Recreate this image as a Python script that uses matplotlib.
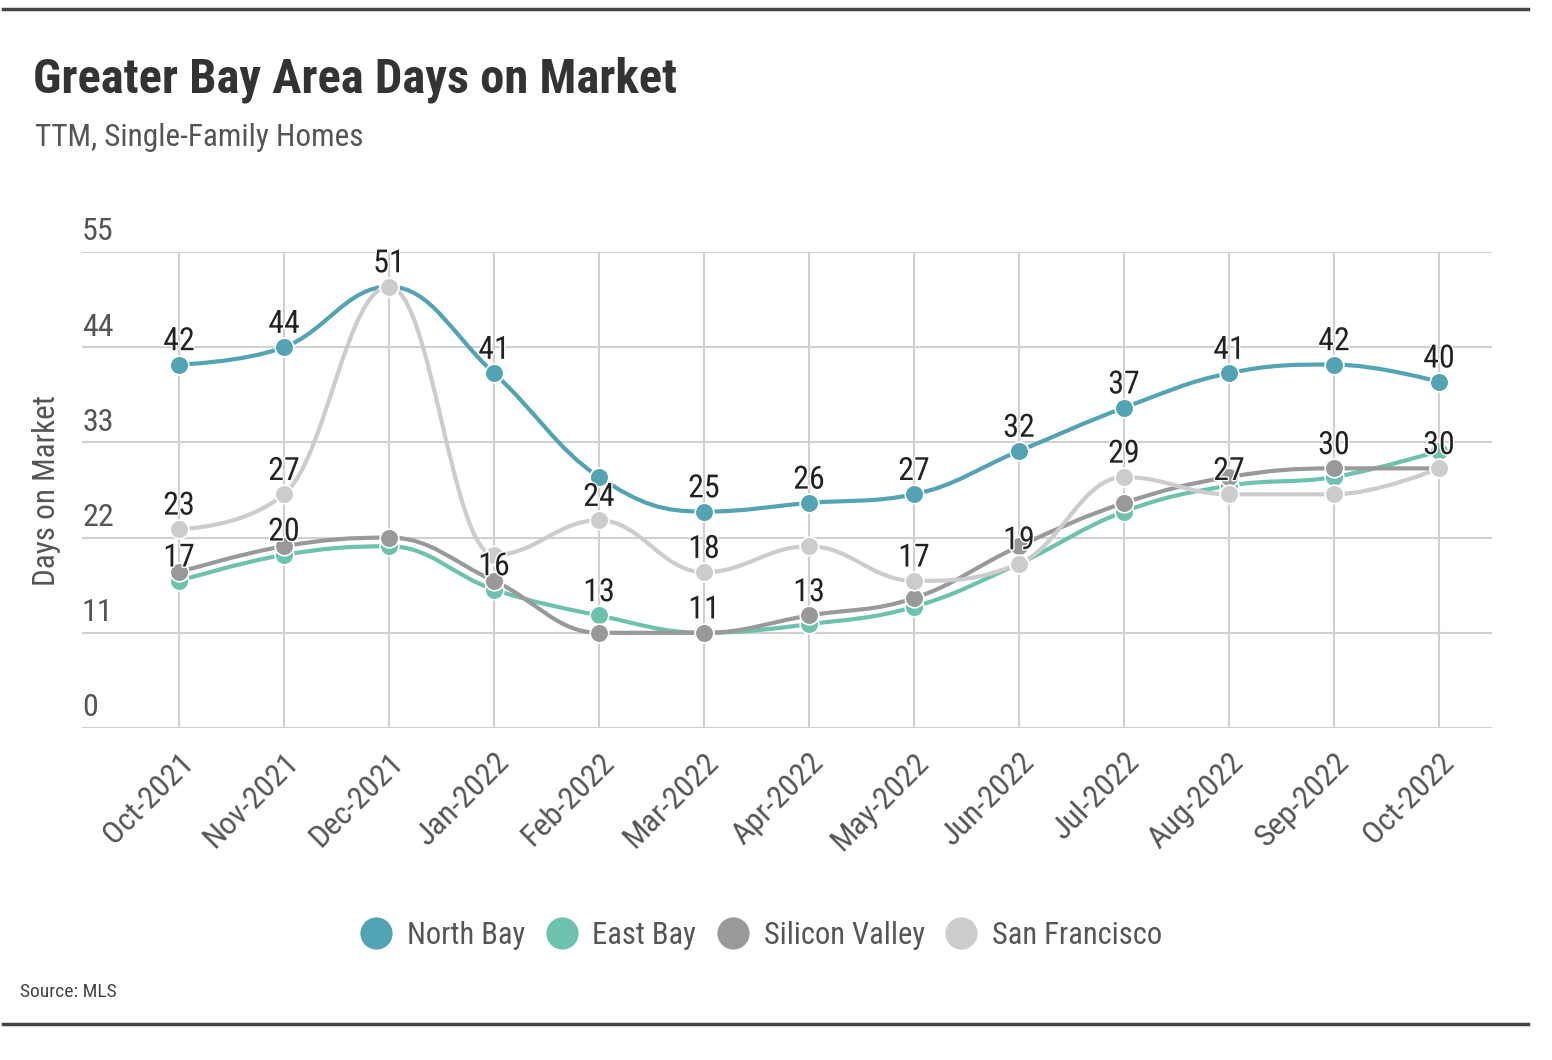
import numpy as np
import matplotlib
matplotlib.use("Agg")
import matplotlib.pyplot as plt
from matplotlib import font_manager
from matplotlib.path import Path
from matplotlib.patches import PathPatch
from matplotlib.lines import Line2D
import matplotlib.patheffects as pe

# Dữ liệu
months = ["Oct-2021", "Nov-2021", "Dec-2021", "Jan-2022", "Feb-2022", "Mar-2022", "Apr-2022",
          "May-2022", "Jun-2022", "Jul-2022", "Aug-2022", "Sep-2022", "Oct-2022"]
series_names = ["North Bay", "East Bay", "Silicon Valley", "San Francisco"]
north_bay = [42, 44, 51, 41, 29, 25, 26, 27, 32, 37, 41, 42, 40]
east_bay = [17, 20, 21, 16, 13, 11, 12, 14, 19, 25, 28, 29, 32]
silicon_valley = [18, 21, 22, 17, 11, 11, 13, 15, 21, 26, 29, 30, 30]
san_francisco = [23, 27, 51, 20, 24, 18, 21, 17, 19, 29, 27, 27, 30]
y_ticks = [0, 11, 22, 33, 44, 55]

# nhãn nào được hiện (các nhãn chồng nhau bị ẩn như biểu đồ gốc)
shown_nb = [0, 1, 2, 3, 5, 6, 7, 8, 9, 10, 11, 12]
shown_eb = [0, 1, 3, 4, 5, 8]
shown_sv = [6, 11, 12]
shown_sf = [0, 1, 4, 5, 7, 9, 10]

colors = ["#52a3b4", "#6cc2ad", "#999999", "#cccccc"]

# Font chữ hẹp giống bản gốc (nếu có)
installed = {f.name for f in font_manager.fontManager.ttflist}
fam = "DejaVu Sans"
for cand in ["Liberation Sans Narrow", "Roboto Condensed", "Noto Sans Condensed",
             "Open Sans Condensed", "PT Sans Narrow", "Lato"]:
    if cand in installed:
        fam = cand
        break
plt.rcParams['font.family'] = [fam, 'DejaVu Sans']


def spline_path(xs, ys, smoothing=1.5):
    # đường cong kiểu spline (giống Highcharts)
    n = len(xs)
    left = [None] * n
    right = [None] * n
    for i in range(n):
        x, y = xs[i], ys[i]
        if i == 0 or i == n - 1:
            left[i] = (x, y)
            right[i] = (x, y)
            continue
        lx, ly = xs[i - 1], ys[i - 1]
        nx, ny = xs[i + 1], ys[i + 1]
        d = smoothing + 1
        lcx = (smoothing * x + lx) / d
        lcy = (smoothing * y + ly) / d
        rcx = (smoothing * x + nx) / d
        rcy = (smoothing * y + ny) / d
        if rcx != lcx:
            corr = ((rcy - lcy) * (rcx - x)) / (rcx - lcx) + y - rcy
            lcy += corr
            rcy += corr
        if lcy > ly and lcy > y:
            lcy = max(ly, y)
            rcy = 2 * y - lcy
        elif lcy < ly and lcy < y:
            lcy = min(ly, y)
            rcy = 2 * y - lcy
        if rcy > ny and rcy > y:
            rcy = max(ny, y)
            lcy = 2 * y - rcy
        elif rcy < ny and rcy < y:
            rcy = min(ny, y)
            lcy = 2 * y - rcy
        left[i] = (lcx, lcy)
        right[i] = (rcx, rcy)
    verts = [(xs[0], ys[0])]
    codes = [Path.MOVETO]
    for i in range(1, n):
        verts += [right[i - 1], left[i], (xs[i], ys[i])]
        codes += [Path.CURVE4] * 3
    return Path(verts, codes)


fig = plt.figure(figsize=(15.52, 10.6), dpi=100)
W, H = 1552, 1060
ax = fig.add_axes([82 / W, 1 - 728 / H, (1492 - 82) / W, (728 - 252) / H])

x = np.arange(len(months))
all_series = [north_bay, east_bay, silicon_valley, san_francisco]
all_shown = [shown_nb, shown_eb, shown_sv, shown_sf]

for k, (vals, col) in enumerate(zip(all_series, colors)):
    p = spline_path(list(x), vals)
    ax.add_patch(PathPatch(p, facecolor="none", edgecolor=col, lw=3, zorder=3 + k * 0.1))
    ax.scatter(x, vals, s=180, color=col, edgecolors="white", linewidths=1.2, zorder=4 + k * 0.1)

for vals, shown in zip(all_series, all_shown):
    for i in shown:
        ax.annotate(str(vals[i]), (x[i], vals[i]), xytext=(0, 6), textcoords="offset points",
                    ha="center", va="bottom", fontsize=23, color="#222222", zorder=6,
                    path_effects=[pe.withStroke(linewidth=2, foreground="white")])

ax.set_xlim(-97 / 105, 12 + 53 / 105)
ax.set_ylim(0, 55)
ax.set_yticks(y_ticks)
ax.set_xticks(x)
ax.set_xticklabels(months, rotation=45, ha="right", va="top", rotation_mode="anchor",
                   fontsize=23, color="#555555")
ax.tick_params(axis="x", length=0, pad=14)
ax.tick_params(axis="y", length=0, labelleft=False)
for t in y_ticks:
    ax.annotate(str(t), (0, t), xycoords=ax.get_yaxis_transform(), xytext=(0, 4),
                textcoords="offset points", ha="left", va="bottom", fontsize=23, color="#555555")
ax.grid(True, color="#d0d0d0", lw=1.5, zorder=0)
for s in ax.spines.values():
    s.set_visible(False)
ax.axhline(0, color="#cccccc", lw=1.5, zorder=1)

fig.text(47 / W, 1 - 490 / H, "Days on Market", rotation=90, ha="center", va="center",
         fontsize=22.5, color="#555555")

# Tiêu đề
fig.text(33 / W, 1 - 80 / H, "Greater Bay Area Days on Market", ha="left", va="center",
         fontsize=35, fontweight="bold", color="#333333")
fig.text(35 / W, 1 - 138 / H, "TTM, Single-Family Homes", ha="left", va="center",
         fontsize=22.5, color="#555555")
fig.text(20 / W, 1 - 992 / H, "Source: MLS", ha="left", va="center", fontsize=14, color="#444444")

# Chú giải
handles = [Line2D([], [], marker="o", ls="", markersize=24, color=c, markeredgecolor="white",
                  markeredgewidth=0.8) for c in colors]
fig.legend(handles, series_names, loc="center", bbox_to_anchor=(757 / W, 1 - 935 / H), ncol=4,
           frameon=False, fontsize=22, labelcolor="#555555", handletextpad=0.2,
           columnspacing=0.4, handlelength=1.6)

# đường viền trên và dưới
fig.add_artist(Line2D([3 / W, 1528 / W], [1 - 9 / H, 1 - 9 / H], color="#444444", lw=2.5))
fig.add_artist(Line2D([3 / W, 1528 / W], [1 - 1024 / H, 1 - 1024 / H], color="#444444", lw=2.5))

fig.savefig("out.png", dpi=100)
